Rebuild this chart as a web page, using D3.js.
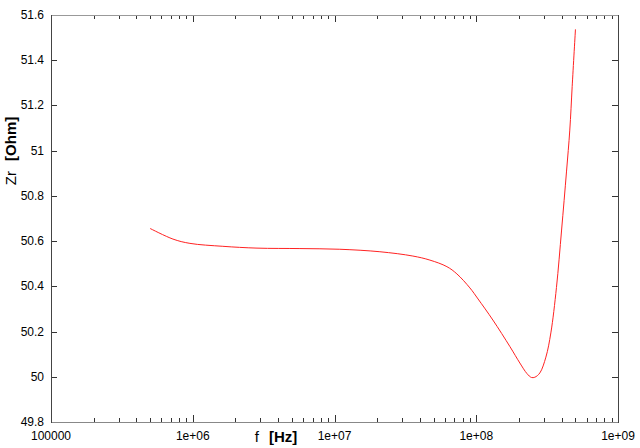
<!DOCTYPE html>
<html><head><meta charset="utf-8">
<script src="https://cdn.jsdelivr.net/npm/d3@7"></script>
<style>body{margin:0;background:#fff}svg{display:block}text{font-family:"Liberation Sans",Arial,sans-serif}</style>
</head><body><svg id="c" width="640" height="448"></svg>
<script>
const freq = [5.0e5,7.25e5,9.55e5,1.63e6,2.84e6,5.7e6,1.09e7,2.09e7,3.57e7,4.71e7,6.21e7,7.3e7,9.02e7,1.03e8,1.31e8,1.73e8,2.03e8,2.28e8,2.45e8,2.59e8,2.81e8,3.1e8,3.36e8,3.68e8,4.0e8,4.33e8,4.57e8,4.75e8,5.01e8];
const zr = [50.656,50.609,50.590,50.577,50.569,50.567,50.564,50.553,50.534,50.516,50.487,50.455,50.393,50.344,50.251,50.133,50.061,50.014,49.997,49.998,50.017,50.087,50.194,50.395,50.649,50.906,51.091,51.283,51.537];
const xTickVals = [1e5,1e6,1e7,1e8,1e9];
const xTickLabels = ["100000","1e+06","1e+07","1e+08","1e+09"];
const yTickVals = [49.8,50,50.2,50.4,50.6,50.8,51,51.2,51.4,51.6];
const yTickLabels = ["49.8","50","50.2","50.4","50.6","50.8","51","51.2","51.4","51.6"];

const L=51,R=618,T=15,B=422;
const svg=d3.select("#c");
const x=d3.scaleLog().domain([1e5,1e9]).range([L,R]);
const y=d3.scaleLinear().domain([49.8,51.6]).range([B,T]);

// minor ticks
const minors=[];
for(let d=1e5; d<1e9; d*=10) for(let k=2;k<=9;k++) minors.push(d*k);
const g=svg.append("g");
g.selectAll(".mb").data(minors).join("line").attr("x1",d=>Math.round(x(d))+0.5).attr("x2",d=>Math.round(x(d))+0.5).attr("y1",B).attr("y2",B-4).attr("stroke","#333");
g.selectAll(".mt").data(minors).join("line").attr("x1",d=>Math.round(x(d))+0.5).attr("x2",d=>Math.round(x(d))+0.5).attr("y1",T).attr("y2",T+4).attr("stroke","#333");
g.selectAll(".Mb").data(xTickVals).join("line").attr("x1",d=>Math.round(x(d))+0.5).attr("x2",d=>Math.round(x(d))+0.5).attr("y1",B).attr("y2",B-7).attr("stroke","#333");
g.selectAll(".Mt").data(xTickVals).join("line").attr("x1",d=>Math.round(x(d))+0.5).attr("x2",d=>Math.round(x(d))+0.5).attr("y1",T).attr("y2",T+7).attr("stroke","#333");
g.selectAll(".yl").data(yTickVals).join("line").attr("x1",L).attr("x2",L+6).attr("y1",d=>Math.round(y(d))+0.5).attr("y2",d=>Math.round(y(d))+0.5).attr("stroke","#333");
g.selectAll(".yr").data(yTickVals).join("line").attr("x1",R).attr("x2",R-6).attr("y1",d=>Math.round(y(d))+0.5).attr("y2",d=>Math.round(y(d))+0.5).attr("stroke","#333");

// frame
svg.append("line").attr("x1",L).attr("x2",R).attr("y1",T+0.5).attr("y2",T+0.5).attr("stroke","#999");
svg.append("line").attr("x1",L).attr("x2",R).attr("y1",B+0.5).attr("y2",B+0.5).attr("stroke","#888");
svg.append("line").attr("x1",L+0.5).attr("x2",L+0.5).attr("y1",T).attr("y2",B+1).attr("stroke","#444");
svg.append("line").attr("x1",R+0.5).attr("x2",R+0.5).attr("y1",T).attr("y2",B+1).attr("stroke","#444");

// tick labels
svg.selectAll(".xt").data(xTickVals).join("text").attr("x",d=>x(d)).attr("y",440).attr("text-anchor","middle").attr("font-size",12).attr("fill","#000").text((d,i)=>xTickLabels[i]);
svg.selectAll(".ytl").data(yTickVals).join("text").attr("x",44).attr("y",d=>y(d)+4).attr("text-anchor","end").attr("font-size",12).attr("fill","#000").text((d,i)=>yTickLabels[i]);

// axis titles
const xt=svg.append("text").attr("x",276).attr("y",442).attr("text-anchor","middle").attr("font-size",15).attr("fill","#000");
xt.append("tspan").text("f ");
xt.append("tspan").attr("font-weight","bold").attr("dx",6).text("[Hz]");
const yt=svg.append("text").attr("transform","translate(16,151) rotate(-90)").attr("text-anchor","middle").attr("font-size",15).attr("fill","#000");
yt.append("tspan").text("Zr ");
yt.append("tspan").attr("font-weight","bold").attr("dx",6).text("[Ohm]");

// curve
const pts=freq.map((f,i)=>[f,zr[i]]);
svg.append("path").datum(pts).attr("fill","none").attr("stroke","#f22").attr("stroke-width",1)
  .attr("d",d3.line().x(d=>x(d[0])).y(d=>y(d[1])).curve(d3.curveCatmullRom.alpha(0.5)));
</script></body></html>
